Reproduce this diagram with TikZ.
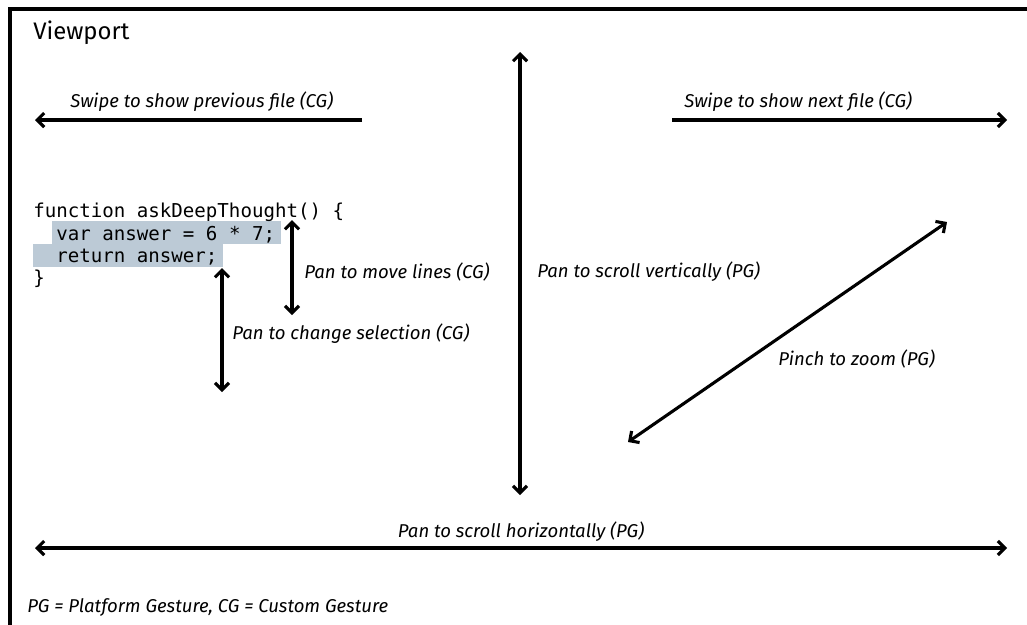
\documentclass[tikz,border=0pt]{standalone}
\usepackage{fontspec}
\setsansfont{Fira Sans}
\setmonofont{DejaVu Sans Mono}
\usepackage{tikz}
\usetikzlibrary{positioning,arrows.meta}
\tikzset{>={Straight Barb[length=5pt,width=10pt]}}
\definecolor{selblue}{RGB}{188,202,214}

\begin{document}
\begin{tikzpicture}[x=0.025cm,y=-0.025cm,
  gest/.style={line width=2.2pt},
  lbl/.style={font=\sffamily\itshape\fontsize{13.2}{15}\selectfont,inner sep=0pt},
  code/.style={font=\ttfamily\fontsize{13.6}{16}\selectfont,inner sep=0pt,anchor=base west}]
\useasboundingbox (0,0) rectangle (1027,625);
\draw[line width=2.4pt] (10,640) -- (10,9) -- (1040,9);
\node[anchor=base west,inner sep=0pt,font=\sffamily\fontsize{17}{20}\selectfont] (title) at (33,39) {Viewport};
% selected text
\fill[selblue] (52,221) rectangle (281,244);
\fill[selblue] (33,244) rectangle (223,267);
\node[code] (l1) at (33,217) {function askDeepThought() \{};
\node[code] (l2) at (33,240) {\ \ var answer = 6 * 7;};
\node[code] (l3) at (33,262) {\ \ return answer;};
\node[code] (l4) at (33,284) {\}};
% swipes
\coordinate (prevS) at (362,120); \coordinate (prevE) at (35,120);
\coordinate (nextS) at (672,120); \coordinate (nextE) at (1007,120);
\draw[gest,->] (prevS) -- (prevE);
\draw[gest,->] (nextS) -- (nextE);
\node[lbl,anchor=base west] (prev) at (70,107) {Swipe to show previous file (CG)};
\node[lbl,anchor=base west] (next) at (684,107) {Swipe to show next file (CG)};
% pans
\coordinate (vtop) at (520,52); \coordinate (vbot) at (520,495);
\draw[gest,<->] (vtop) -- (vbot);
\node[lbl,anchor=base west] (vert) at (537,277) {Pan to scroll vertically (PG)};
\coordinate (mvtop) at (292,220); \coordinate (mvbot) at (292,315);
\draw[gest,<->] (mvtop) -- (mvbot);
\node[lbl,anchor=base west] (move) at (304,278) {Pan to move lines (CG)};
\coordinate (seltop) at (222,268); \coordinate (selbot) at (222,392);
\draw[gest,<->] (seltop) -- (selbot);
\node[lbl,anchor=base west] (sel) at (232,339) {Pan to change selection (CG)};
\coordinate (hl) at (35,548); \coordinate (hr) at (1007,548);
\draw[gest,<->] (hl) -- (hr);
\node[lbl,anchor=base] (horiz) at (521,537) {Pan to scroll horizontally (PG)};
% pinch
\coordinate (pa) at (628,442); \coordinate (pb) at (947,222);
\draw[gest,<->] (pa) -- (pb);
\node[lbl,anchor=base west] (pinch) at (778,365) {Pinch to zoom (PG)};
\node[lbl,anchor=base west] (legend) at (27,612) {PG = Platform Gesture, CG = Custom Gesture};
\end{tikzpicture}
\end{document}
